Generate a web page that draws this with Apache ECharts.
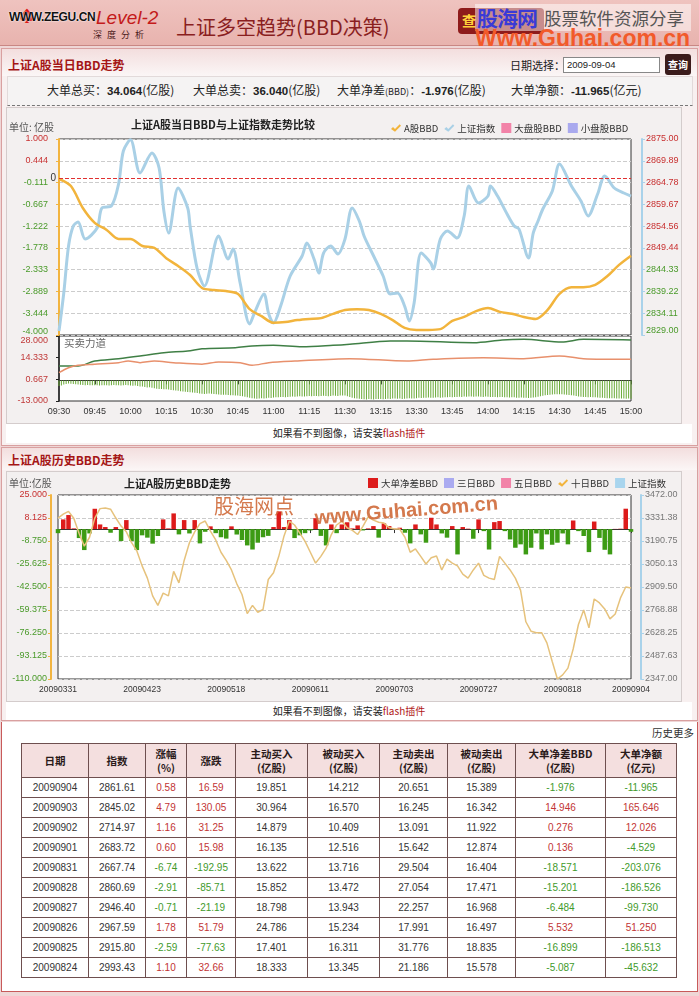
<!DOCTYPE html>
<html><head><meta charset="utf-8">
<script src="https://cdn.jsdelivr.net/npm/echarts@6/dist/echarts.min.js"></script>
<style>
*{box-sizing:border-box;}
body{margin:0;width:699px;height:996px;overflow:hidden;background:#efd6d6;font-family:"Noto Sans CJK SC","Liberation Sans",sans-serif;position:relative;color:#222;}
.a{position:absolute;white-space:nowrap;}
.panel{position:absolute;background:#f8f0f0;border:1px solid #d9a0a0;}
.ptitle{position:absolute;font-size:12px;font-weight:bold;color:#a51616;line-height:14px;}
.note{position:absolute;font-size:10px;line-height:18px;text-align:center;background:#fff;color:#222;}
.note span{color:#b01818;}
.info{position:absolute;font-size:12px;line-height:16px;top:82px;}
.info b{font-family:"Liberation Sans";font-size:11.5px;}
table{position:absolute;left:21px;top:743px;border-collapse:collapse;table-layout:fixed;width:655px;font-family:"Liberation Sans","Noto Sans CJK SC",sans-serif;font-size:10px;}
td,th{border:1px solid #6e4f4f;text-align:center;padding:0;color:#333;}
td{height:20px;}
th{height:34px;background:#f4dfdf;font-weight:bold;font-size:10.5px;line-height:14px;color:#2a1a1a;font-family:"Noto Sans CJK SC",sans-serif;}
.r{color:#c23434;} .g{color:#3f9a2c;}
</style></head><body>

<!-- header -->
<div class="a" style="left:0;top:0;width:699px;height:46px;background:linear-gradient(#efc3bf,#e8b3ae);border-bottom:1px solid #c98784;"></div>
<div class="a" style="left:19px;top:7px;font-size:16px;color:#d11;line-height:16px;">♠</div>
<div class="a" style="left:9px;top:10px;font-size:12px;font-weight:bold;font-family:'Liberation Sans';color:#111;letter-spacing:-0.4px;text-shadow:0 0 2px #fff,0 0 1px #fff;line-height:14px;">WWW.ZEGU.CN</div>
<div class="a" style="left:96px;top:7px;font-size:19px;font-style:italic;font-family:'Liberation Sans';color:#c41a1a;line-height:22px;">Level-2</div>
<div class="a" style="left:93px;top:29px;font-size:9px;letter-spacing:5px;color:#4a2020;line-height:11px;">深度分析</div>
<div class="a" style="left:176px;top:13px;font-size:20px;color:#8a1f1f;line-height:28px;">上证多空趋势(BBD决策)</div>
<div class="a" style="left:458px;top:8px;width:86px;height:26px;background:#8e1b1b;border-radius:4px;"></div>
<div class="a" style="left:462px;top:11px;font-size:14px;font-weight:bold;color:#ffd23a;line-height:18px;">查</div>
<div class="a" style="left:475px;top:4px;width:216px;height:27px;background:rgba(255,255,255,0.5);"></div>
<div class="a" style="left:477px;top:3px;font-size:21px;font-weight:bold;color:#3a3ad6;line-height:28px;letter-spacing:-1px;">股海网</div>
<div class="a" style="left:544px;top:6px;font-size:17.5px;color:#555;line-height:24px;">股票软件资源分享</div>
<div class="a" style="left:475px;top:26px;font-size:23px;font-weight:bold;font-family:'Liberation Sans';color:#f25a2a;line-height:24px;">Www.Guhai.com.cn</div>

<!-- panel 1 -->
<div class="panel" style="left:1px;top:48px;width:697px;height:398px;"></div>
<div class="a" style="left:2px;top:49px;width:695px;height:27px;background:linear-gradient(#f3dede,#fbf6f6);"></div>
<div class="ptitle" style="left:8px;top:58px;">上证A股当日BBD走势</div>
<div class="a" style="left:510px;top:58px;font-size:11px;line-height:14px;">日期选择：</div>
<div class="a" style="left:563px;top:57px;width:97px;height:16px;background:#fff;border:1px solid #888;font-size:9.5px;font-family:'Liberation Sans';line-height:14px;padding-left:3px;">2009-09-04</div>
<div class="a" style="left:665px;top:54px;width:26px;height:21px;background:#3b1c1c;border-radius:3px;color:#fff;font-size:10px;font-weight:bold;line-height:21px;text-align:center;">查询</div>
<div class="a" style="left:7px;top:76px;width:686px;height:30px;background:#f5f3f3;border:1px solid #e2dada;border-bottom:1px dashed #777;"></div>
<div class="info" style="left:47px;">大单总买：<b>34.064</b>(亿股)</div>
<div class="info" style="left:193px;">大单总卖：<b>36.040</b>(亿股)</div>
<div class="info" style="left:337px;">大单净差<span style="font-size:9px;">(BBD)</span>：<b>-1.976</b>(亿股)</div>
<div class="info" style="left:511px;">大单净额：<b>-11.965</b>(亿元)</div>
<div id="c1" class="a" style="left:6px;top:107px;width:676px;height:317px;border:1px solid #d4cccc;"></div>
<div class="note" style="left:6px;top:424px;width:686px;height:19px;">如果看不到图像，请安装<span>flash插件</span></div>

<!-- panel 2 -->
<div class="panel" style="left:1px;top:447px;width:697px;height:274px;"></div>
<div class="a" style="left:2px;top:448px;width:695px;height:22px;background:linear-gradient(#f3dede,#fbf6f6);"></div>
<div class="ptitle" style="left:8px;top:453px;">上证A股历史BBD走势</div>
<div id="c2" class="a" style="left:6px;top:471px;width:676px;height:231px;border:1px solid #d4cccc;"></div>
<div class="note" style="left:6px;top:702px;width:686px;height:18px;">如果看不到图像，请安装<span>flash插件</span></div>

<!-- panel 3 -->
<div class="a" style="left:1px;top:722px;width:697px;height:270px;background:#fff;border:1px solid #c85a5a;border-top:none;"></div>
<div class="a" style="left:652px;top:726px;font-size:10.5px;line-height:14px;color:#333;">历史更多</div>
<table id="tbl"></table>

<script>
// ===== Chart 1 (intraday) =====
const timeLabels = ['09:30','09:45','10:00','10:15','10:30','10:45','11:00','11:15','11:30','13:15','13:30','13:45','14:00','14:15','14:30','14:45','15:00'];
const bbdMinutes = [0,5,10,15,20,25,30,35,40,45,50,55,60,65,70,75,80,85,90,95,100,105,110,115,120,125,130,135,140,145,150,155,160,165,170,175,180,185,190,195,200,205,210,215,220,225,230,235,240];
const bbdValues = [-0.02,-0.20,-0.76,-1.14,-1.32,-1.55,-1.55,-1.73,-1.78,-2.04,-2.24,-2.47,-2.80,-2.85,-2.88,-2.95,-3.34,-3.52,-3.69,-3.67,-3.62,-3.59,-3.57,-3.46,-3.36,-3.34,-3.36,-3.46,-3.62,-3.82,-3.87,-3.87,-3.85,-3.64,-3.54,-3.39,-3.31,-3.41,-3.46,-3.54,-3.59,-3.36,-2.95,-2.78,-2.78,-2.72,-2.50,-2.21,-1.976];
const idxMinutes = [0,2,4,6,8,11,16,18,22,25,27,30,34,39,42,44,46,50,54,55,58,61,67,71,73,76,80,82,86,88,90,93,97,102,104,107,109,111,114,117,120,123,126,128,132,136,139,142,145,147,149,152,156,157,160,163,167,170,172,176,180,181,184,188,191,193,197,199,201,203,207,210,215,219,222,226,229,233,237,240];
const idxValues = [2829.94,2838.86,2849.89,2854.58,2855.52,2851.53,2854.11,2858.81,2859.28,2864.44,2872.18,2874.80,2867.02,2871.71,2868.19,2858.10,2852.94,2863.50,2858.81,2854.58,2844.49,2840.50,2852.23,2846.84,2849.18,2841.20,2831.58,2834.16,2838.62,2833.93,2831.82,2835.81,2842.85,2847.54,2850.59,2846.84,2843.55,2848.24,2849.89,2848.01,2851.53,2858.81,2855.76,2852.23,2847.54,2842.85,2838.62,2838.86,2835.81,2832.29,2836.51,2848.24,2845.90,2844.49,2851.53,2853.41,2851.76,2856.93,2863.97,2859.98,2861.62,2863.97,2861.62,2857.40,2854.58,2853.88,2847.07,2852.94,2855.76,2858.57,2862.80,2869.13,2863.97,2860.45,2856.93,2862.09,2866.32,2863.50,2862.33,2861.61];
const buyMinutes = [0,8,15,25,34,44,54,60,74,81,90,102,115,122,139,146,174,186,195,211,220,240];
const buyValues = [9.1,9.1,12.2,13.7,15.4,17.5,18.5,20.0,20.6,21.7,22.1,21.2,22.1,22.8,24.9,24.9,23.8,25.5,25.9,24.2,25.9,25.5];
const sellMinutes = [0,4,8,15,25,29,34,40,48,60,67,76,81,88,99,122,146,157,178,195,210,220,240];
const sellValues = [4.9,8.0,9.5,10.2,11.2,12.2,11.2,12.2,11.2,10.2,11.6,11.2,9.5,11.2,12.2,13.7,12.2,13.3,14.3,13.7,15.4,13.7,13.3];
const forceBars = [
-3.6,-3.2,-2.6,-2.2,-2.0,-2.1,-2.3,-2.5,-2.6,-2.8,-2.9,-3.0,-2.9,-3.0,-3.1,
-3.0,-3.1,-3.2,-3.1,-3.0,-3.1,-3.2,-3.0,-2.9,-3.0,-3.1,-3.2,-3.0,-2.9,-3.1,
-3.2,-3.4,-3.3,-3.5,-3.8,-3.9,-4.2,-4.5,-4.4,-4.7,-5.0,-5.2,-5.4,-5.5,-5.6,
-5.6,-5.8,-6.0,-6.2,-6.3,-6.6,-6.8,-7.0,-7.1,-7.3,-7.5,-7.7,-7.8,-8.0,-8.2,
-8.5,-8.6,-8.4,-8.3,-8.4,-8.6,-8.8,-8.9,-9.0,-9.1,-9.0,-9.2,-9.3,-9.4,-9.5,
-9.6,-9.8,-10.0,-10.3,-10.6,-10.9,-11.2,-11.5,-11.6,-11.4,-11.3,-11.5,-11.2,-11.0,-11.1,
-10.8,-10.7,-10.6,-10.5,-10.4,-10.6,-10.5,-10.3,-10.2,-10.3,-10.1,-10.0,-10.2,-10.1,-10.0,
-9.9,-10.0,-9.8,-9.9,-10.0,-9.8,-9.7,-9.9,-10.0,-9.8,-9.6,-9.7,-9.8,-9.6,-9.5,
-9.6,
-10.0,-10.5,-11.0,-11.3,-11.5,-11.6,-11.8,-11.9,-12.0,-11.8,-11.9,-12.0,-11.8,-11.7,-11.8,
-11.9,-11.7,-11.6,-11.8,-11.5,-11.4,-11.6,-11.5,-11.7,-11.6,-11.4,-11.3,-11.5,-11.4,-11.2,
-11.0,-11.1,-10.9,-11.0,-10.8,-10.9,-11.0,-10.8,-10.7,-10.9,-10.8,-10.6,-10.7,-10.5,-10.6,
-10.4,-10.5,-10.3,-10.4,-10.2,-10.3,-10.1,-10.2,-10.3,-10.1,-10.2,-10.3,-10.4,-10.2,-10.3,
-10.4,-10.5,-10.4,-10.6,-10.5,-10.4,-10.6,-10.7,-10.8,-10.6,-10.7,-10.9,-11.0,-10.8,-10.9,
-11.0,-11.1,-10.9,-10.8,-10.6,-10.3,-10.0,-9.7,-9.4,-9.2,-9.0,-8.9,-8.8,-8.8,-8.7,
-8.8,-8.9,-9.0,-9.2,-9.4,-9.6,-9.9,-10.1,-10.3,-10.4,-10.5,-10.6,-10.5,-10.6,-10.7,
-10.8,-10.9,-11.0,-11.1,-11.2,-11.3,-11.2,-11.3,-11.4,-11.5,-11.4,-11.5,-11.6,-11.5,-11.6];
const prevClose = 2845.02;

// ===== Chart 2 (history) =====
const histDates = ['20090331',
'20090401','20090402','20090403','20090407','20090408','20090409','20090410','20090413','20090414','20090415','20090416','20090417','20090420','20090421','20090422','20090423','20090424','20090427','20090428','20090429','20090430',
'20090504','20090505','20090506','20090507','20090508','20090511','20090512','20090513','20090514','20090515','20090518','20090519','20090520','20090521','20090522','20090525','20090526','20090527',
'20090601','20090602','20090603','20090604','20090605','20090608','20090609','20090610','20090611','20090612','20090615','20090616','20090617','20090618','20090619','20090622','20090623','20090624','20090625','20090626','20090629','20090630',
'20090701','20090702','20090703','20090706','20090707','20090708','20090709','20090710','20090713','20090714','20090715','20090716','20090717','20090720','20090721','20090722','20090723','20090724','20090727','20090728','20090729','20090730','20090731',
'20090803','20090804','20090805','20090806','20090807','20090810','20090811','20090812','20090813','20090814','20090817','20090818','20090819','20090820','20090821','20090824','20090825','20090826','20090827','20090828','20090831',
'20090901','20090902','20090903','20090904'];
const dailyBBD = [-3.0,7.1,10.3,0.5,-6.6,-15.4,-3.2,14.9,3.4,1.5,-2.7,1.5,-8.8,6.6,-8.8,-15.4,-4.6,-6.3,-10.7,-5.1,
7.1,0.5,11.5,-3.9,6.6,-3.2,6.6,-10.5,-2.0,2.0,-3.0,-6.0,-7.0,2.0,-4.0,-8.0,-12.0,-15.0,-10.0,-6.0,
-5.0,1.5,13.0,1.5,6.6,-6.6,-4.6,-3.0,-1.0,8.0,-5.0,-12.0,3.4,-3.0,3.4,5.0,0.5,2.7,-1.0,0.5,
2.2,-6.3,4.2,2.2,0.3,1.0,-2.7,-10.5,3.4,-3.9,-10.0,8.3,3.4,-3.2,-6.3,2.2,-18.6,1.5,0.3,-7.1,
7.1,-1.5,-15.0,5.1,5.9,-1.5,-7.6,-13.7,-11.2,-18.6,-13.7,-3.2,-14.9,-3.9,-11.5,-10.0,-3.2,-11.2,6.3,-1.5,
-5.087,-16.899,5.532,-6.484,-15.201,-18.571,0.136,0.276,14.946,-1.976];
const tenDayBBD = [8.1,11,13,8,-3,-12.5,-6,8,15,15.5,14.6,8.1,2.2,-2,-10,-16,-27,-36,-49,-56,
-47,-49,-31,-39.5,-23,-10,-2,4,5.9,-1.5,-8,-17,-23,-30,-40,-48,-62,-56,-61,-59,
-37,-32,-20,-5,5.9,3,-3,-9,-17,-25,-20,-14,-4,3,5.9,1,-1,-4,2,9,
6.6,5,4.4,1,0,0,-6,-17,-14.6,-20,-25.6,-21,-19.8,-30,-22,-25,-27,-33,-36,-30,
-25,-34,-36,-37,-20,-25,-30,-36,-45,-68,-75,-76,-76,-83.5,-97,-110,-107,-102,-88,-70,
-59.3,-72.5,-51.3,-54.2,-58.6,-65.9,-62.3,-50.5,-42.5,-43.2];

// ===== Table =====
const tDate=['20090904','20090903','20090902','20090901','20090831','20090828','20090827','20090826','20090825','20090824'];
const tIndex=['2861.61','2845.02','2714.97','2683.72','2667.74','2860.69','2946.40','2967.59','2915.80','2993.43'];
const tPct=['0.58','4.79','1.16','0.60','-6.74','-2.91','-0.71','1.78','-2.59','1.10'];
const tChg=['16.59','130.05','31.25','15.98','-192.95','-85.71','-21.19','51.79','-77.63','32.66'];
const tActBuy=['19.851','30.964','14.879','16.135','13.622','15.852','18.798','24.786','17.401','18.333'];
const tPasBuy=['14.212','16.570','10.409','12.516','13.716','13.472','13.943','15.234','16.311','13.345'];
const tActSell=['20.651','16.245','13.091','15.642','29.504','27.054','22.257','17.991','31.776','21.186'];
const tPasSell=['15.389','16.342','11.922','12.874','16.404','17.471','16.968','16.497','18.835','15.578'];
const tBBD=['-1.976','14.946','0.276','0.136','-18.571','-15.201','-6.484','5.532','-16.899','-5.087'];
const tNet=['-11.965','165.646','12.026','-4.529','-203.076','-186.526','-99.730','51.250','-186.513','-45.632'];
const tHead=['日期','指数','涨幅<br>(%)','涨跌','主动买入<br>(亿股)','被动买入<br>(亿股)','主动卖出<br>(亿股)','被动卖出<br>(亿股)','大单净差BBD<br>(亿股)','大单净额<br>(亿元)'];
const colW=[67,57,41,49,72,72,68,68,90,71];

(function buildTable(){
  const cls=v=>v.charAt(0)==='-'?'g':'r';
  let h='<colgroup>'+colW.map(w=>'<col style="width:'+w+'px">').join('')+'</colgroup><tr>'+tHead.map(x=>'<th>'+x+'</th>').join('')+'</tr>';
  for(let i=0;i<tDate.length;i++){
    h+='<tr><td>'+tDate[i]+'</td><td>'+tIndex[i]+'</td><td class="'+cls(tPct[i])+'">'+tPct[i]+'</td><td class="'+cls(tChg[i])+'">'+tChg[i]+'</td><td>'+tActBuy[i]+'</td><td>'+tPasBuy[i]+'</td><td>'+tActSell[i]+'</td><td>'+tPasSell[i]+'</td><td class="'+cls(tBBD[i])+'">'+tBBD[i]+'</td><td class="'+cls(tNet[i])+'">'+tNet[i]+'</td></tr>';
  }
  document.getElementById('tbl').innerHTML=h;
})();

const RED='#c83030', GREEN='#4a9a2a';
const CHECK='path://M0,6 L3,3 L6,6 L13,-1 L15,1 L6,10 Z';
const FONT='"Liberation Sans","Noto Sans CJK SC",sans-serif';

const c1=echarts.init(document.getElementById('c1'),null,{renderer:'canvas'});
c1.setOption({
  animation:false,
  backgroundColor:'#f3f0f0',
  textStyle:{fontFamily:FONT},
  title:{text:'上证A股当日BBD与上证指数走势比较',left:124,top:11,padding:0,textStyle:{fontSize:11,fontWeight:'bold',color:'#222',fontFamily:'"Noto Sans CJK SC",sans-serif'}},
  legend:{left:384,top:15,padding:0,itemWidth:10,itemHeight:10,itemGap:6,selectedMode:false,
    textStyle:{fontSize:9.5,color:'#333',fontFamily:'"Noto Sans CJK SC",sans-serif',padding:[0,0,0,-2]},
    data:[{name:'A股BBD',icon:CHECK},{name:'上证指数',icon:CHECK},{name:'大盘股BBD',icon:'rect'},{name:'小盘股BBD',icon:'rect'}]},
  graphic:[
    {type:'text',left:2,top:14,style:{text:'单位: 亿股',fill:'#555',font:'10px "Noto Sans CJK SC"'}},
    {type:'text',left:57,top:230,style:{text:'买卖力道',fill:'#666',font:'10.5px "Noto Sans CJK SC"'}}
  ],
  grid:[
    {left:52,top:31,width:572,height:196,show:true,backgroundColor:'#fff',borderColor:'#333',borderWidth:1,outerBoundsMode:'none'},
    {left:52,top:228,width:572,height:65,show:true,backgroundColor:'#fff',borderColor:'#333',borderWidth:1,outerBoundsMode:'none'}
  ],
  xAxis:[
    {gridIndex:0,type:'value',min:0,max:240,interval:15,show:false},
    {gridIndex:1,type:'value',min:0,max:240,interval:15,
      axisLine:{lineStyle:{color:'#333'}},axisTick:{length:4,lineStyle:{color:'#333'}},splitLine:{show:false},
      axisLabel:{formatter:v=>timeLabels[Math.round(v/15)]||'',fontSize:9,color:'#333',margin:6}}
  ],
  yAxis:[
    {gridIndex:0,type:'value',min:-4,max:1,interval:5/9,offset:7,
      axisLine:{show:true,lineStyle:{color:'#f2b440',width:2}},axisTick:{show:true,length:3,lineStyle:{color:'#f2b440'}},
      splitLine:{show:true,lineStyle:{color:'#cccccc',type:'dashed'}},
      axisLabel:{margin:4,formatter:v=>{const s=v.toFixed(3);if(v<-3.99)return '{gb|'+s+'}';return (v>0.001?'{r|':'{g|')+s+'}';},
        rich:{r:{color:RED,fontSize:9},g:{color:GREEN,fontSize:9},gb:{color:GREEN,fontSize:9,padding:[0,0,7,0]}}}},
    {gridIndex:0,type:'value',position:'right',min:2829,max:2875,interval:46/9,offset:11,
      axisLine:{show:true,lineStyle:{color:'#a9d2ea',width:2}},axisTick:{show:true,length:3,lineStyle:{color:'#a9d2ea'}},
      splitLine:{show:false},
      axisLabel:{margin:4,formatter:v=>{const s=v.toFixed(2);if(v<2829.5)return '{gb|'+s+'}';return (v>=prevClose?'{r|':'{g|')+s+'}';},
        rich:{r:{color:RED,fontSize:9},g:{color:GREEN,fontSize:9},gb:{color:GREEN,fontSize:9,padding:[0,0,8,0]}}}},
    {gridIndex:1,type:'value',min:-13,max:28,interval:41/3,offset:7,
      axisLine:{show:true,lineStyle:{color:'#222',width:1.5}},axisTick:{show:true,length:3,lineStyle:{color:'#222'}},
      splitLine:{show:false},
      axisLabel:{margin:4,formatter:v=>{const s=v.toFixed(3);return v>27?'{t|'+s+'}':'{n|'+s+'}';},
        rich:{n:{color:'#c03838',fontSize:9},t:{color:'#c03838',fontSize:9,padding:[10,0,0,0]}}}}
  ],
  series:[
    {name:'上证指数',type:'line',xAxisIndex:0,yAxisIndex:1,z:2,symbol:'none',smooth:0.3,
      data:idxMinutes.map((t,i)=>[t,idxValues[i]]),lineStyle:{color:'#a9d0e6',width:3},itemStyle:{color:'#a9d0e6'}},
    {name:'A股BBD',type:'line',xAxisIndex:0,yAxisIndex:0,z:3,symbol:'none',smooth:0.3,
      data:bbdMinutes.map((t,i)=>[t,bbdValues[i]]),lineStyle:{color:'#f2b43c',width:2.5},itemStyle:{color:'#f2b43c'},
      markLine:{silent:true,symbol:'none',data:[{yAxis:0}],lineStyle:{color:'#e03030',type:'dashed',width:1},
        label:{position:'start',formatter:'0',color:'#333',fontSize:10,distance:3}}},
    {name:'大盘股BBD',type:'line',data:[],itemStyle:{color:'#f283a8'},lineStyle:{color:'#f283a8'}},
    {name:'小盘股BBD',type:'line',data:[],itemStyle:{color:'#a9a9ee'},lineStyle:{color:'#a9a9ee'}},
    {name:'力道',type:'bar',xAxisIndex:1,yAxisIndex:2,barWidth:1,data:forceBars.map((v,i)=>[i,v]),itemStyle:{color:'#6aaa38'}},
    {name:'买',type:'line',xAxisIndex:1,yAxisIndex:2,symbol:'none',smooth:0.3,data:buyMinutes.map((t,i)=>[t,buyValues[i]]),lineStyle:{color:'#3f7f45',width:1.5}},
    {name:'卖',type:'line',xAxisIndex:1,yAxisIndex:2,symbol:'none',smooth:0.3,data:sellMinutes.map((t,i)=>[t,sellValues[i]]),lineStyle:{color:'#e8906c',width:1.5}}
  ]
});

const lastIdx=histDates.length-1;
const showHist=(i)=>i%16===0||i===lastIdx;
const c2=echarts.init(document.getElementById('c2'),null,{renderer:'canvas'});
c2.setOption({
  animation:false,
  backgroundColor:'#f3f0f0',
  textStyle:{fontFamily:FONT},
  title:{text:'上证A股历史BBD走势',left:117,top:6,padding:0,textStyle:{fontSize:11,fontWeight:'bold',color:'#222',fontFamily:'"Noto Sans CJK SC",sans-serif'}},
  legend:{left:361,top:6,padding:0,itemWidth:10,itemHeight:10,itemGap:6,selectedMode:false,
    textStyle:{fontSize:9.5,color:'#333',fontFamily:'"Noto Sans CJK SC",sans-serif',padding:[0,0,0,-2]},
    data:[{name:'大单净差BBD',icon:'rect',itemStyle:{color:'#dd1b1b'}},{name:'三日BBD',icon:'rect'},{name:'五日BBD',icon:'rect'},{name:'十日BBD',icon:CHECK},{name:'上证指数',icon:'rect'}]},
  graphic:[
    {type:'text',left:2,top:6,style:{text:'单位:亿股',fill:'#555',font:'10px "Noto Sans CJK SC"'}},
    {type:'text',left:207,top:24,z:100,style:{text:'股海网点',fill:'#cf6a3a',opacity:0.9,font:'20px "Noto Sans CJK SC"'}},
    {type:'text',left:307,top:22,z:100,rotation:0.08,style:{text:'www.Guhai.com.cn',fill:'#cf6a3a',opacity:0.9,font:'bold 20px "Liberation Sans"'}}
  ],
  grid:{left:51,top:23,width:573,height:184,show:true,backgroundColor:'#fff',borderColor:'#333',borderWidth:1,outerBoundsMode:'none'},
  xAxis:{type:'category',data:histDates,boundaryGap:false,
    axisLine:{lineStyle:{color:'#333'}},axisTick:{interval:showHist,length:4,lineStyle:{color:'#333'}},
    axisLabel:{interval:showHist,fontSize:8.5,color:'#333',margin:6},splitLine:{show:false}},
  yAxis:[
    {type:'value',min:-110,max:25,interval:16.875,offset:7,
      axisLine:{show:true,lineStyle:{color:'#f2b440',width:2}},axisTick:{show:true,length:3,lineStyle:{color:'#f2b440'}},
      splitLine:{show:true,lineStyle:{color:'#cccccc',type:'dashed'}},
      axisLabel:{margin:4,formatter:v=>{const s=v.toFixed(3);return (v>0?'{r|':'{g|')+s+'}';},rich:{r:{color:RED,fontSize:9},g:{color:GREEN,fontSize:9}}}},
    {type:'value',position:'right',min:2347,max:3472,interval:140.625,offset:10,
      axisLine:{show:true,lineStyle:{color:'#a9d2ea',width:2}},axisTick:{show:true,length:3,lineStyle:{color:'#a9d2ea'}},
      splitLine:{show:false},axisLabel:{margin:4,formatter:v=>v.toFixed(2),color:'#777',fontSize:9}}
  ],
  series:[
    {name:'大单净差BBD',type:'bar',barWidth:4.5,data:dailyBBD,itemStyle:{color:p=>p.value>=0?'#dd1b1b':'#3d9b14'},
      markLine:{silent:true,symbol:'none',data:[{yAxis:0}],lineStyle:{color:'#999',type:'dashed',width:1,opacity:0.0},
        label:{position:'start',formatter:'0',color:'#333',fontSize:10,distance:3}}},
    {name:'三日BBD',type:'line',data:[],itemStyle:{color:'#aaaaf0'},lineStyle:{color:'#aaaaf0'}},
    {name:'五日BBD',type:'line',data:[],itemStyle:{color:'#f283a8'},lineStyle:{color:'#f283a8'}},
    {name:'十日BBD',type:'line',data:tenDayBBD,symbol:'none',z:3,lineStyle:{color:'#e6c27c',width:1.5},itemStyle:{color:'#f2b43c'}},
    {name:'上证指数',type:'line',yAxisIndex:1,data:[],itemStyle:{color:'#a9d5ee'},lineStyle:{color:'#a9d5ee'}}
  ]
});
</script>
</body></html>
